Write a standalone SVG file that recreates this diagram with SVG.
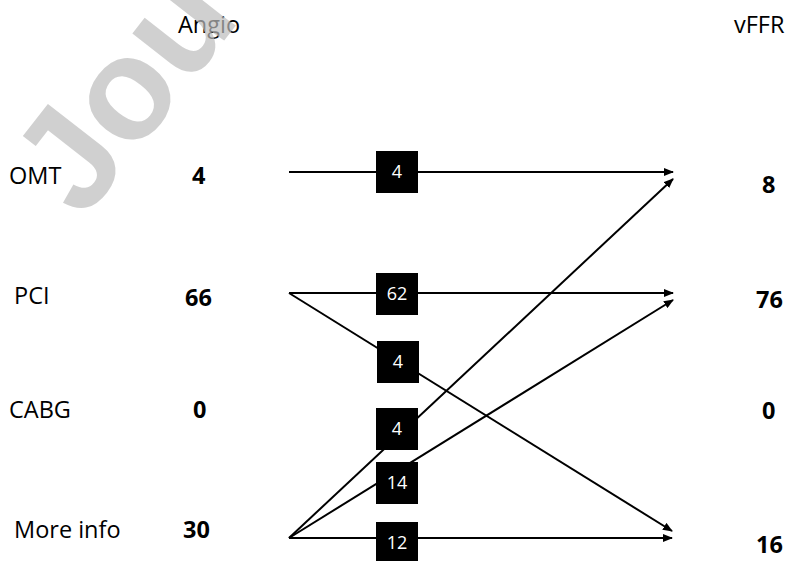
<svg xmlns="http://www.w3.org/2000/svg" width="791" height="561" viewBox="0 0 791 561">
<style>
.lbl{font-family:"Open Sans","Liberation Sans",sans-serif;font-size:23.5px;fill:#000}
.num{font-family:"Open Sans","Liberation Sans",sans-serif;font-size:23.5px;font-weight:bold;fill:#000}
.box{fill:#000}
.bt{font-family:"Open Sans","Liberation Sans",sans-serif;font-size:18px;fill:#fff;text-anchor:middle}
.ln{stroke:#000;stroke-width:2;fill:none;marker-end:url(#ah)}
.wm{font-family:"Liberation Sans",Arial,sans-serif;font-size:145px;font-weight:bold;fill:#bdbdbd;opacity:0.7}
</style>
<defs>
<marker id="ah" viewBox="0 0 10 8" refX="9" refY="4" markerWidth="5" markerHeight="4" orient="auto" markerUnits="strokeWidth">
<path d="M0,0 L10,4 L0,8 z" fill="#000"/>
</marker>
</defs>
<rect width="791" height="561" fill="#fff"/>
<g id="headers">
<text class="lbl" x="178" y="33">Angio</text>
<text class="lbl" x="734" y="33">vFFR</text>
</g>
<g id="angio-omt"><text class="lbl" x="9" y="184">OMT</text><text class="num" x="192" y="184">4</text></g>
<g id="angio-pci"><text class="lbl" x="14" y="304">PCI</text><text class="num" x="185" y="306">66</text></g>
<g id="angio-cabg"><text class="lbl" x="9" y="418">CABG</text><text class="num" x="193" y="418">0</text></g>
<g id="angio-more"><text class="lbl" x="14" y="538">More info</text><text class="num" x="183" y="538">30</text></g>
<g id="vffr-omt"><text class="num" x="762" y="193">8</text></g>
<g id="vffr-pci"><text class="num" x="756" y="308">76</text></g>
<g id="vffr-cabg"><text class="num" x="762" y="419">0</text></g>
<g id="vffr-more"><text class="num" x="756" y="553">16</text></g>
<g id="connectors">
<line class="ln" x1="289" y1="172" x2="673" y2="172"/>
<line class="ln" x1="289" y1="293" x2="673" y2="293"/>
<line class="ln" x1="289" y1="293" x2="672" y2="531"/>
<line class="ln" x1="289" y1="538" x2="673" y2="179"/>
<line class="ln" x1="289" y1="538" x2="673" y2="300"/>
<line class="ln" x1="289" y1="538" x2="672" y2="538"/>
</g>
<g id="flow-omt-omt"><rect class="box" x="376" y="151" width="42" height="42"/><text class="bt" x="397" y="178">4</text></g>
<g id="flow-pci-pci"><rect class="box" x="376" y="273" width="42" height="42"/><text class="bt" x="397" y="300">62</text></g>
<g id="flow-pci-more"><rect class="box" x="377" y="341" width="42" height="42"/><text class="bt" x="398" y="368">4</text></g>
<g id="flow-more-omt"><rect class="box" x="376" y="408" width="42" height="42"/><text class="bt" x="397" y="435">4</text></g>
<g id="flow-more-pci"><rect class="box" x="376" y="462" width="42" height="42"/><text class="bt" x="397" y="489">14</text></g>
<g id="flow-more-more"><rect class="box" x="376" y="522" width="42" height="42"/><text class="bt" x="397" y="549">12</text></g>
<text class="wm" x="83" y="221" transform="rotate(-52 83 221)">Jou</text>
</svg>
